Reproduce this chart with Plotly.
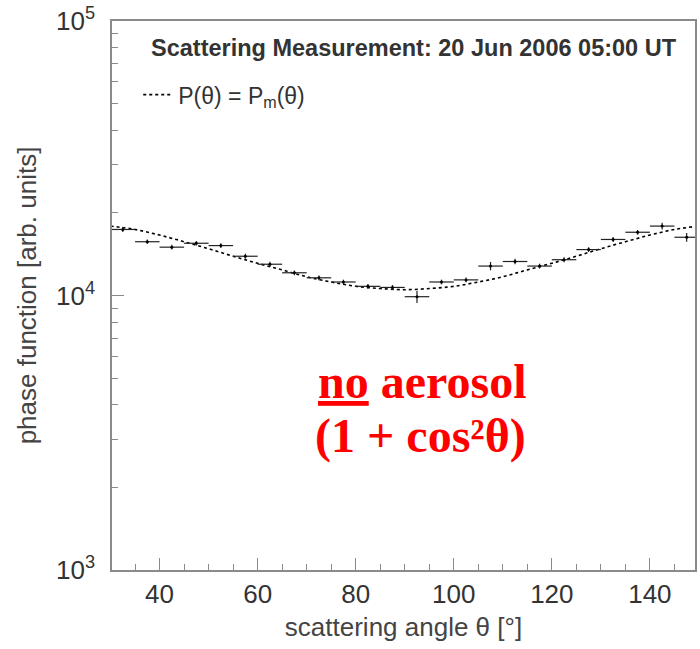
import plotly.graph_objects as go

# ---- data ----
theta_meas = [32.5, 37.5, 42.5, 47.5, 52.5, 57.5, 62.5, 67.5, 72.5, 77.5, 82.5, 87.5,
              92.5, 97.5, 102.5, 107.5, 112.5, 117.5, 122.5, 127.5, 132.5, 137.5, 142.5, 147.5]
p_meas = [17400, 15700, 15000, 15500, 15200, 13900, 13000, 12100, 11600, 11200, 10800, 10700,
          9900, 11200, 11400, 12800, 13300, 12800, 13500, 14700, 16000, 17000, 17900, 16300]
theta_halfwidth = [2.5] * 24
p_err = [350, 300, 300, 300, 300, 280, 260, 240, 230, 220, 220, 220,
         500, 220, 230, 450, 300, 260, 270, 290, 320, 340, 500, 600]

theta_model = [30, 35, 40, 45, 50, 55, 60, 65, 70, 75, 80, 85, 90,
               95, 100, 105, 110, 115, 120, 125, 130, 135, 140, 145, 150]
p_model = [17900, 17400, 16600, 15700, 14800, 13900, 13100, 12400, 11700, 11200, 10800, 10600, 10500,
           10600, 10800, 11200, 11700, 12400, 13100, 13900, 14800, 15700, 16600, 17400, 17900]

y_tickvals = [1e3, 1e4, 1e5]
y_ticktext = ["10<sup>3</sup>", "10<sup>4</sup>", "10<sup>5</sup>"]
y_minor = [m * 10 ** e for e in (3, 4) for m in range(2, 10)]

GRAY = "#8a8a8a"
TXT = "#333333"
SANS = "Liberation Sans, Arial, sans-serif"
SERIF = "Liberation Serif, Times New Roman, serif"

fig = go.Figure()
fig.add_trace(go.Scatter(
    x=theta_model, y=p_model, mode="lines", line=dict(color="black", width=1.6, dash="dot", shape="spline"),
    name="P(θ) = P<sub>m</sub>(θ)", showlegend=True, hoverinfo="skip"))
fig.add_trace(go.Scatter(
    x=theta_meas, y=p_meas, mode="markers", marker=dict(color="black", size=3),
    error_x=dict(type="data", array=theta_halfwidth, color="#222", thickness=1.2, width=0),
    error_y=dict(type="data", array=p_err, color="#222", thickness=1.2, width=0),
    showlegend=False))

fig.update_layout(
    width=700, height=649,
    margin=dict(l=112, r=3, t=20, b=79),
    plot_bgcolor="white", paper_bgcolor="white",
    font=dict(family=SANS, color=TXT),
    legend=dict(x=0.045, y=0.905, xanchor="left", yanchor="top", bgcolor="rgba(0,0,0,0)",
                font=dict(size=23, color=TXT, family=SANS), itemwidth=30),
    xaxis=dict(range=[30.3, 149.2], showline=True, mirror=True, linecolor=GRAY, linewidth=1.5,
               ticks="inside", ticklen=12, tickwidth=1.3, tickcolor=GRAY,
               tickmode="array", tickvals=[40, 60, 80, 100, 120, 140],
               minor=dict(ticks="inside", ticklen=6, dtick=5, tickcolor=GRAY, tickwidth=1.2),
               showgrid=False, zeroline=False, tickfont=dict(size=26, color=TXT),
               title=dict(text="scattering angle θ [°]", font=dict(size=26, color="#444"), standoff=10)),
    yaxis=dict(type="log", range=[3, 5], showline=True, mirror=True, linecolor=GRAY, linewidth=1.5,
               ticks="inside", ticklen=12, tickwidth=1.3, tickcolor=GRAY,
               tickmode="array", tickvals=y_tickvals, ticktext=y_ticktext, ticklabelstandoff=10,
               minor=dict(ticks="inside", ticklen=6, tickmode="array", tickvals=y_minor,
                          tickcolor=GRAY, tickwidth=1.2),
               showgrid=False, zeroline=False, tickfont=dict(size=26, color=TXT),
               title=dict(text="phase function [arb. units]", font=dict(size=26, color="#444"), standoff=12)),
    annotations=[
        dict(text="<b>Scattering Measurement: 20 Jun 2006 05:00 UT</b>", xref="paper", yref="paper",
             x=0.064, y=0.951, xanchor="left", yanchor="middle", showarrow=False,
             font=dict(size=23.5, color=TXT, family=SANS)),
        dict(text="<b><u>no</u> aerosol</b>", xref="paper", yref="paper",
             x=(423 - 112) / 585, y=1 - (381 - 20) / 550, xanchor="center", yanchor="middle",
             showarrow=False, font=dict(size=48, color="#ff0000", family=SERIF)),
        dict(text="<b>(1 + cos²θ)</b>", xref="paper", yref="paper",
             x=(422 - 112) / 585, y=1 - (436 - 20) / 550, xanchor="center", yanchor="middle",
             showarrow=False, font=dict(size=48, color="#ff0000", family=SERIF)),
    ],
)

fig.write_html("out.html")
